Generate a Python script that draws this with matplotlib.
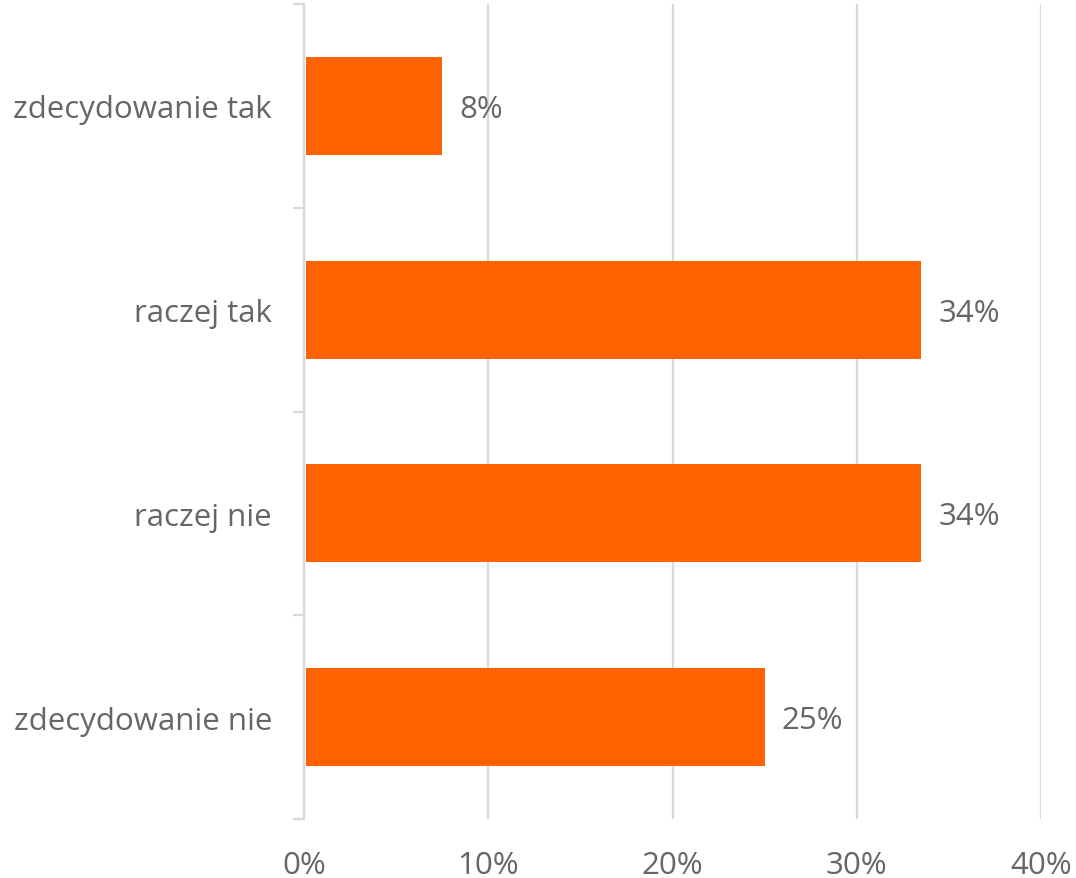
import matplotlib
matplotlib.use("Agg")
import matplotlib.pyplot as plt
import numpy as np

categories = ["zdecydowanie tak", "raczej tak", "raczej nie", "zdecydowanie nie"]
values = [7.4, 33.4, 33.4, 24.9]
value_labels = ["8%", "34%", "34%", "25%"]
xticks = [0, 10, 20, 30, 40]
xtick_labels = ["0%", "10%", "20%", "30%", "40%"]

plt.rcParams['font.family'] = ['Open Sans', 'DejaVu Sans']
text_color = "#666666"
grid_color = "#d9d9d9"
bar_color = "#ff6200"

fig = plt.figure(figsize=(10.76, 8.79), dpi=100)
ax = fig.add_axes([304/1076, (879-820)/879, (1041-304)/1076, (820-5)/879])

y = np.arange(len(categories))
ax.barh(y, values, height=0.48, color=bar_color, zorder=3, left=0.1)
ax.set_ylim(len(categories) - 0.5, -0.5)
ax.set_xlim(0, 40)

fs = 22.5
for yi, v, lab in zip(y, values, value_labels):
    ax.annotate(lab, xy=(v + 0.1, yi), xytext=(17, -3), textcoords="offset pixels",
                ha="left", va="center", fontsize=fs, color=text_color)

ax.set_xticks(xticks)
ax.set_xticklabels(xtick_labels, fontsize=fs, color=text_color)
ax.tick_params(axis="x", length=0, pad=22)
ax.xaxis.grid(True, color=grid_color, linewidth=1.6, zorder=0)
ax.set_axisbelow(True)

ax.set_yticks(y)
ax.set_yticklabels(categories, fontsize=fs, color=text_color)
ax.set_yticks(np.arange(-0.5, len(categories)), minor=True)
ax.tick_params(axis="y", which="major", length=0, pad=23)
ax.tick_params(axis="y", which="minor", length=8, width=1.6, color=grid_color)

for s in ["top", "right", "bottom"]:
    ax.spines[s].set_visible(False)
ax.spines["left"].set_color(grid_color)
ax.spines["left"].set_linewidth(1.6)

fig.savefig("out.png", dpi=100)
